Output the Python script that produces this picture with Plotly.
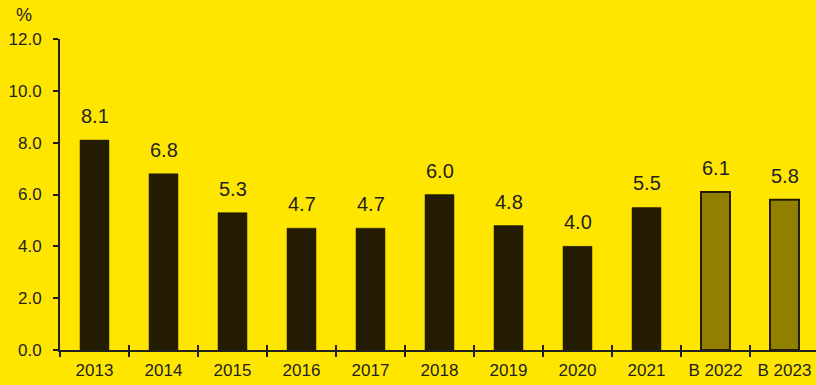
import plotly.graph_objects as go

# Annual values, percent; the last two are forecasts ("В" = estimate)
years = ["2013", "2014", "2015", "2016", "2017", "2018", "2019", "2020", "2021", "В 2022", "В 2023"]
values = [8.1, 6.8, 5.3, 4.7, 4.7, 6.0, 4.8, 4.0, 5.5, 6.1, 5.8]
is_forecast = [False] * 9 + [True, True]

y_ticks = [0, 2, 4, 6, 8, 10, 12]

BG = "#FFE600"
DARK = "#231C02"
FORECAST = "#918000"
INK = "#231F20"
FONT = "Liberation Sans, Arial, sans-serif"

fill = [FORECAST if f else DARK for f in is_forecast]
line_w = [2 if f else 0.5 for f in is_forecast]

fig = go.Figure()
fig.add_trace(go.Bar(
    x=years,
    y=values,
    marker=dict(color=fill, line=dict(color=DARK, width=line_w)),
    width=0.42,
))
# invisible helper trace for the upward half of the crossing x ticks
fig.add_trace(go.Bar(x=years, y=[None] * len(years), xaxis="x2", showlegend=False, hoverinfo="skip"))

x_range = [-0.5, -0.5 + 756 / 69]

# value labels above each bar (category index as x, so numeric-looking years stay categories)
value_labels = [
    dict(x=i, y=v, xref="x", yref="y", text=f"{v:.1f}", showarrow=False,
         xanchor="center", yanchor="bottom", yshift=11,
         font=dict(family=FONT, size=20, color=INK))
    for i, v in enumerate(values)
]

unit_label = dict(
    text="%", xref="paper", yref="paper", x=(24 - 60) / 756, y=1.0, yshift=24,
    xanchor="center", yanchor="middle", showarrow=False,
    font=dict(family=FONT, size=18, color=INK),
)

fig.update_layout(
    width=816,
    height=385,
    margin=dict(l=60, r=0, t=39, b=35),
    paper_bgcolor=BG,
    plot_bgcolor=BG,
    showlegend=False,
    font=dict(family=FONT, color=INK),
    xaxis=dict(
        type="category",
        range=x_range,
        showline=True, linecolor=INK, linewidth=2,
        ticks="outside", tickson="boundaries", ticklen=5, tickwidth=2, tickcolor=INK,
        tickfont=dict(family=FONT, size=17, color=INK),
        ticklabelstandoff=4,
        showgrid=False, zeroline=False,
    ),
    xaxis2=dict(
        type="category",
        range=x_range,
        overlaying="x", anchor="y", side="bottom",
        ticks="inside", tickson="boundaries", ticklen=5, tickwidth=2, tickcolor=INK,
        showticklabels=False, showline=False, showgrid=False, zeroline=False,
        categoryorder="array", categoryarray=years,
    ),
    yaxis=dict(
        range=[0, 12],
        tickvals=y_ticks,
        tickformat=".1f",
        showline=True, linecolor=INK, linewidth=2,
        ticks="outside", ticklen=5, tickwidth=2, tickcolor=INK,
        tickfont=dict(family=FONT, size=17, color=INK),
        ticklabelstandoff=8,
        showgrid=False, zeroline=False,
    ),
    annotations=value_labels + [unit_label],
)

fig.write_html("out.html")
